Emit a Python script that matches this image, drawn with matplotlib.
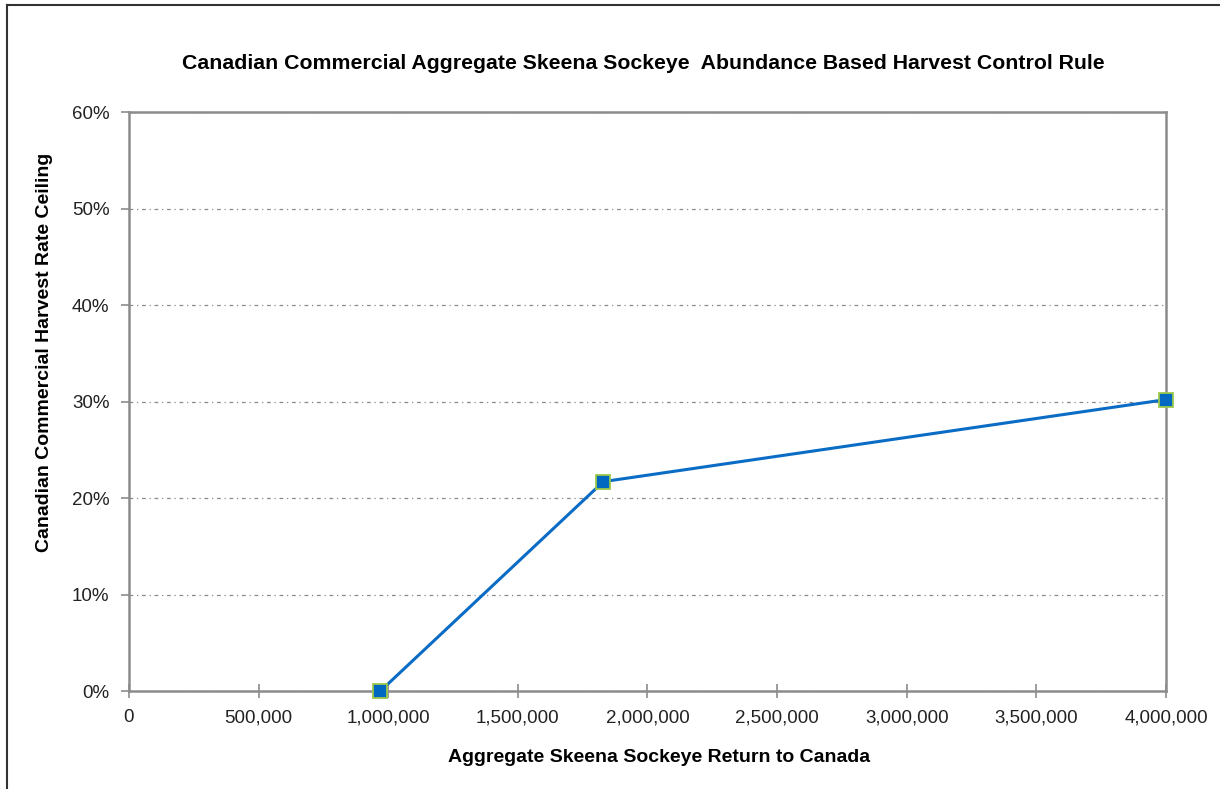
import matplotlib
matplotlib.use("Agg")
import matplotlib.pyplot as plt
from matplotlib.lines import Line2D
from matplotlib.ticker import FuncFormatter, MultipleLocator

plt.rcParams["font.family"] = ["Liberation Sans", "DejaVu Sans"]

# data
returns = [970000, 1830000, 4000000]
harvest_rate = [0.0, 0.217, 0.302]

TITLE = "Canadian Commercial Aggregate Skeena Sockeye  Abundance Based Harvest Control Rule"
XLABEL = "Aggregate Skeena Sockeye Return to Canada"
YLABEL = "Canadian Commercial Harvest Rate Ceiling"

SPINE = "#8c8c8c"
LINE = "#0a6cc4"

fig = plt.figure(figsize=(12.2, 7.89), dpi=100)
ax = fig.add_axes([0.1057, 0.1242, 0.85, 0.7338])

ax.plot(returns, harvest_rate, color=LINE, lw=2.2, marker="s", markersize=10.5,
        markerfacecolor="#0068c0", markeredgecolor="#9bc84a", markeredgewidth=1.3,
        clip_on=False, zorder=5)

ax.set_xlim(0, 4000000)
ax.set_ylim(0, 0.6)
ax.xaxis.set_major_locator(MultipleLocator(500000))
ax.yaxis.set_major_locator(MultipleLocator(0.1))
ax.xaxis.set_major_formatter(FuncFormatter(lambda v, _: f"{int(v):,}"))
ax.yaxis.set_major_formatter(FuncFormatter(lambda v, _: f"{v * 100:.0f}%"))

ax.grid(axis="y", color="#8a8a8a", lw=0.9, linestyle=(0, (3, 3, 1, 3)))
ax.set_axisbelow(True)
for side in ax.spines:
    ax.spines[side].set_color(SPINE)
    ax.spines[side].set_linewidth(1.8)

ax.tick_params(axis="x", direction="inout", length=10, width=1.2, color=SPINE,
               labelsize=13.5, labelcolor="#222222", pad=8)
ax.tick_params(axis="y", direction="out", length=6, width=1.2, color=SPINE,
               labelsize=13.5, labelcolor="#222222", pad=8)

ax.set_xlabel(XLABEL, fontsize=14, fontweight="bold")
ax.set_ylabel(YLABEL, fontsize=14, fontweight="bold")
ax.xaxis.set_label_coords(0.511, -0.100)
ax.yaxis.set_label_coords(-0.073, 0.585)
fig.text(0.527, 0.92, TITLE, ha="center", va="center", fontsize=15.3,
         fontweight="bold")

# frame of the original screenshot (left and top edges)
fig.add_artist(Line2D([0.006, 0.006], [0, 0.994], color="#333333", lw=1.5))
fig.add_artist(Line2D([0.006, 1], [0.994, 0.994], color="#333333", lw=1.5))

fig.savefig("out.png", dpi=100)
